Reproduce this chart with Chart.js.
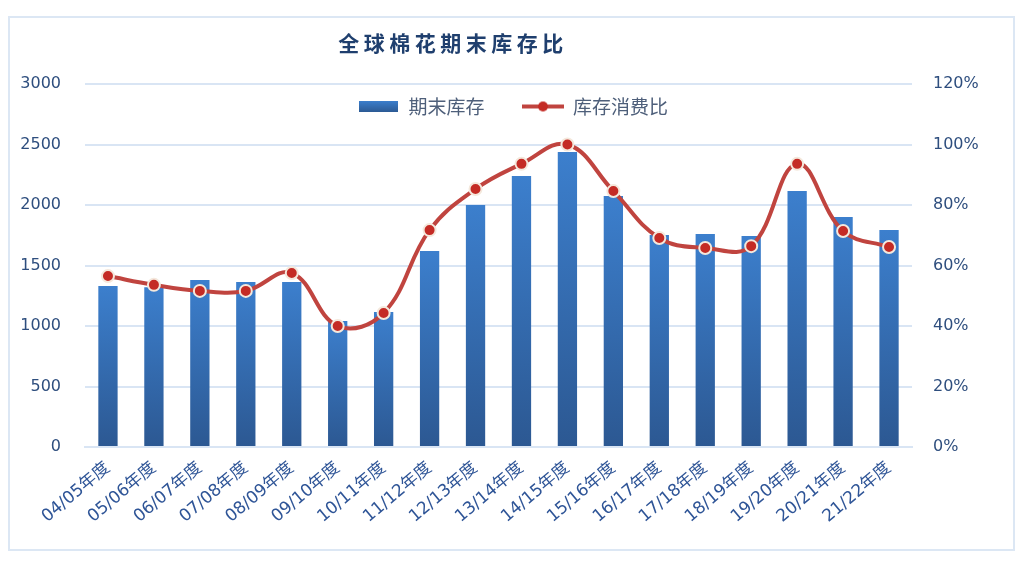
<!DOCTYPE html>
<html>
<head>
<meta charset="utf-8">
<script src="https://cdn.jsdelivr.net/npm/chart.js@4.4.1/dist/chart.umd.min.js"></script>
<style>
  html, body { margin: 0; padding: 0; background: #fff; }
  #wrap { position: relative; width: 1026px; height: 565px; }
  #frame {
    position: absolute; left: 8px; top: 16px; width: 1003px; height: 531px;
    border: 2px solid #DCE7F4; pointer-events: none;
  }
  #title {
    position: absolute; left: 0; top: 27px; width: 906px; text-align: center;
    font: bold 21px "Noto Sans CJK SC", sans-serif; letter-spacing: 4.5px; color: #1F3F6E;
  }
  canvas { position: absolute; left: 0; top: 0; }
</style>
</head>
<body>
<div id="wrap">
  <canvas id="stockChart" width="1026" height="565"></canvas>
  <div id="frame"></div>
  <div id="title">全球棉花期末库存比</div>
</div>
<script>
// 年度
const seasons = ["04/05年度", "05/06年度", "06/07年度", "07/08年度", "08/09年度", "09/10年度",
  "10/11年度", "11/12年度", "12/13年度", "13/14年度", "14/15年度", "15/16年度",
  "16/17年度", "17/18年度", "18/19年度", "19/20年度", "20/21年度", "21/22年度"];
// 期末库存
const endStocks = [1331, 1320, 1380, 1364, 1364, 1041, 1116, 1620, 2000, 2240, 2438, 2074,
  1752, 1760, 1744, 2116, 1901, 1793];
// 库存消费比 (%)
const stockRatio = [56.5, 53.6, 51.6, 51.6, 57.5, 40.0, 44.3, 71.7, 85.3, 93.6, 100.0, 84.6,
  69.1, 65.8, 66.4, 93.6, 71.4, 66.1];

const leftTicks = { min: 0, max: 3000, step: 500 };
const rightTicks = { min: 0, max: 120, step: 20 };

const tickColor = "#2E4E7E";
const gridColor = "#D9E5F4";

// legend swatches
function barSwatch() {
  const c = document.createElement("canvas");
  c.width = 39; c.height = 11;
  const g = c.getContext("2d");
  const gr = g.createLinearGradient(0, 0, 0, 11);
  gr.addColorStop(0, "#3B7ECC");
  gr.addColorStop(1, "#2C5A94");
  g.fillStyle = gr;
  g.fillRect(0, 0, 39, 11);
  return c;
}
function lineSwatch() {
  const c = document.createElement("canvas");
  c.width = 42; c.height = 14;
  const g = c.getContext("2d");
  g.strokeStyle = "#C0443F"; g.lineWidth = 4;
  g.beginPath(); g.moveTo(0, 7); g.lineTo(42, 7); g.stroke();
  g.fillStyle = "#C42B25";
  g.beginPath(); g.arc(21, 7, 5, 0, Math.PI * 2); g.fill();
  return c;
}
const swatches = [barSwatch(), lineSwatch()];

function barFill(ctx) {
  const chart = ctx.chart;
  const y = chart.scales.y;
  if (ctx.type !== "data" || !y || !chart.chartArea) return "#3574BF";
  const top = y.getPixelForValue(ctx.raw);
  const bottom = y.getPixelForValue(0);
  const gr = chart.ctx.createLinearGradient(0, top, 0, bottom);
  gr.addColorStop(0, "#3C7FCD");
  gr.addColorStop(1, "#2C5892");
  return gr;
}

// legend sits inside the plot, like the original
const legendOffset = {
  id: "legendOffset",
  afterLayout(chart) {
    const l = chart.legend;
    if (!l) return;
    l.top = 59; l.bottom = 140;
  }
};

const ctx = document.getElementById("stockChart").getContext("2d");
const stockChart = new Chart(ctx, {
  data: {
    labels: seasons,
    datasets: [
      {
        type: "line",
        label: "库存消费比",
        data: stockRatio,
        yAxisID: "y1",
        order: 0,
        borderColor: "#C0443F",
        borderWidth: 4,
        tension: 0.4,
        pointRadius: 6,
        pointBackgroundColor: "#C42B25",
        pointBorderColor: "#F4E8DC",
        pointBorderWidth: 2
      },
      {
        type: "bar",
        label: "期末库存",
        data: endStocks,
        yAxisID: "y",
        order: 1,
        backgroundColor: barFill,
        barPercentage: 0.42,
        categoryPercentage: 1
      }
    ]
  },
  options: {
    responsive: false,
    animation: false,
    layout: { padding: { top: 83, left: 0, right: 0, bottom: 0 } },
    plugins: {
      tooltip: { enabled: false },
      legend: {
        position: "top",
        align: "center",
        reverse: true,
        maxHeight: 1,
        labels: {
          usePointStyle: true,
          pointStyleWidth: 41,
          padding: 38,
          color: "#4E5F7A",
          font: { family: "'Noto Sans CJK SC', sans-serif", size: 19 },
          generateLabels(chart) {
            const items = Chart.defaults.plugins.legend.labels.generateLabels(chart);
            items.forEach(it => {
              it.pointStyle = it.datasetIndex === 1 ? swatches[0] : swatches[1];
            });
            return items;
          }
        }
      }
    },
    scales: {
      x: {
        offset: true,
        grid: { display: false },
        border: { color: gridColor, width: 2 },
        ticks: {
          color: "#2F5597",
          minRotation: 40,
          maxRotation: 40,
          autoSkip: false,
          font: { family: "'DejaVu Sans', 'Noto Sans CJK SC', sans-serif", size: 17 }
        },
        afterFit(s) { s.height = 118; }
      },
      y: {
        position: "left",
        min: leftTicks.min,
        max: leftTicks.max,
        grid: { color: gridColor, lineWidth: 2, drawTicks: false },
        border: { display: false },
        ticks: {
          stepSize: leftTicks.step,
          padding: 24,
          color: tickColor,
          font: { family: "'DejaVu Sans', sans-serif", size: 16 },
          callback: v => String(v)
        },
        afterFit(s) { s.width = 85; }
      },
      y1: {
        position: "right",
        min: rightTicks.min,
        max: rightTicks.max,
        grid: { drawOnChartArea: false, drawTicks: false },
        border: { display: false },
        ticks: {
          stepSize: rightTicks.step,
          padding: 21,
          color: tickColor,
          font: { family: "'DejaVu Sans', sans-serif", size: 16 },
          callback: v => v + "%"
        },
        afterFit(s) { s.width = 114; }
      }
    }
  },
  plugins: [legendOffset]
});
</script>
</body>
</html>
